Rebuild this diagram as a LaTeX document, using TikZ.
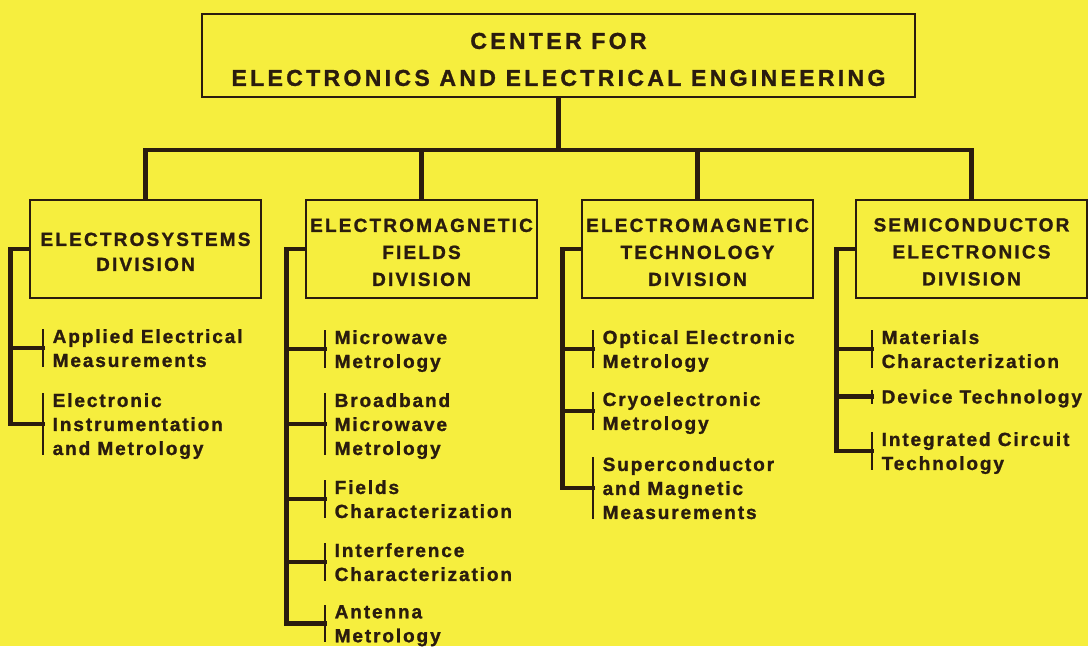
\documentclass[tikz,border=0pt]{standalone}
\usepackage{fontspec}
\setmainfont{Liberation Sans}
\newfontfamily\tfont[LetterSpace=14.5,FakeBold=1.3]{Liberation Sans}
\newfontfamily\dfont[LetterSpace=11.5,FakeBold=1.3]{Liberation Sans}
\newfontfamily\cfont[LetterSpace=10,FakeBold=1.3]{Liberation Sans}
\definecolor{bgy}{RGB}{246,238,62}
\definecolor{ink}{RGB}{42,28,14}
\newcommand{\lift}[1]{\rule{0pt}{#1}}
\tikzset{
 conn/.style={draw=ink, line width=4.5pt, line cap=rect},
 brk/.style={draw=ink, line width=2.5pt},
 boxn/.style={draw=ink, line width=2.8pt, text=ink, inner sep=0pt, align=center},
 divbox/.style={boxn, minimum width=231pt, minimum height=98pt, font=\dfont\bfseries\fontsize{19}{27}\selectfont},
 sub/.style={text=ink, anchor=north west, align=left, inner xsep=9.5pt, inner ysep=0pt, text depth=0pt,
   font=\cfont\bfseries\fontsize{19}{24}\selectfont,
   append after command={(\tikzlastnode.north west) edge[brk] (\tikzlastnode.south west)}}
}
\begin{document}
\begin{tikzpicture}[x=1pt,y=-1pt]
\path[use as bounding box] (0,0) rectangle (1088,646);
\fill[bgy] (0,0) rectangle (1088,646);
% top box
\node[boxn, minimum width=713pt, minimum height=83pt, font=\tfont\bfseries\fontsize{23}{37}\selectfont] (top) at (558.5,55.5) {\lift{24pt}CENTER FOR\\ELECTRONICS AND ELECTRICAL ENGINEERING};
% divisions
\node[divbox, font=\dfont\bfseries\fontsize{19}{25}\selectfont] (d1) at (145.5,249) {\lift{19pt}ELECTROSYSTEMS\\DIVISION};
\node[divbox] (d2) at (421.5,249) {\lift{20pt}ELECTROMAGNETIC\\FIELDS\\DIVISION};
\node[divbox] (d3) at (697.5,249) {\lift{20pt}ELECTROMAGNETIC\\TECHNOLOGY\\DIVISION};
\node[divbox] (d4) at (971.5,249) {\lift{19pt}SEMICONDUCTOR\\ELECTRONICS\\DIVISION};
% top connectors
\coordinate (j) at (558.5,150);
\draw[conn] (top.south) -- (j);
\draw[conn] (d1.north) -- (d1.north |- j) -- (d4.north |- j) -- (d4.north);
\draw[conn] (d2.north) -- (d2.north |- j);
\draw[conn] (d3.north) -- (d3.north |- j);
% children
\node[sub] (a1) at (43,329) {Applied Electrical\\Measurements};
\node[sub] (a2) at (43,393) {Electronic\\Instrumentation\\and Metrology};
\node[sub] (b1) at (325,330) {Microwave\\Metrology};
\node[sub] (b2) at (325,393) {Broadband\\Microwave\\Metrology};
\node[sub] (b3) at (325,480) {Fields\\Characterization};
\node[sub] (b4) at (325,543) {Interference\\Characterization};
\node[sub] (b5) at (325,605) {Antenna\\Metrology};
\node[sub] (c1) at (593,330) {Optical Electronic\\Metrology};
\node[sub] (c2) at (593,392) {Cryoelectronic\\Metrology};
\node[sub] (c3) at (593,457) {Superconductor\\and Magnetic\\Measurements};
\node[sub] (e1) at (872,330) {Materials\\Characterization};
\node[sub] (e2) at (872,389.5) {Device Technology};
\node[sub] (e3) at (872,432) {Integrated Circuit\\Technology};
% spines
\coordinate (s1) at ([xshift=-18pt]d1.west);
\coordinate (s2) at ([xshift=-18pt]d2.west);
\coordinate (s3) at ([xshift=-18pt]d3.west);
\coordinate (s4) at ([xshift=-18pt]d4.west);
\draw[conn] (d1.west) -- (s1) -- (s1 |- a2.west) -- (a2.west);
\draw[conn] (s1 |- a1.west) -- (a1.west);
\draw[conn] (d2.west) -- (s2) -- (s2 |- b5.west) -- (b5.west);
\foreach \n in {b1,b2,b3,b4} \draw[conn] (s2 |- \n.west) -- (\n.west);
\draw[conn] (d3.west) -- (s3) -- (s3 |- c3.west) -- (c3.west);
\foreach \n in {c1,c2} \draw[conn] (s3 |- \n.west) -- (\n.west);
\draw[conn] (d4.west) -- (s4) -- (s4 |- e3.west) -- (e3.west);
\foreach \n in {e1,e2} \draw[conn] (s4 |- \n.west) -- (\n.west);
\end{tikzpicture}
\end{document}
